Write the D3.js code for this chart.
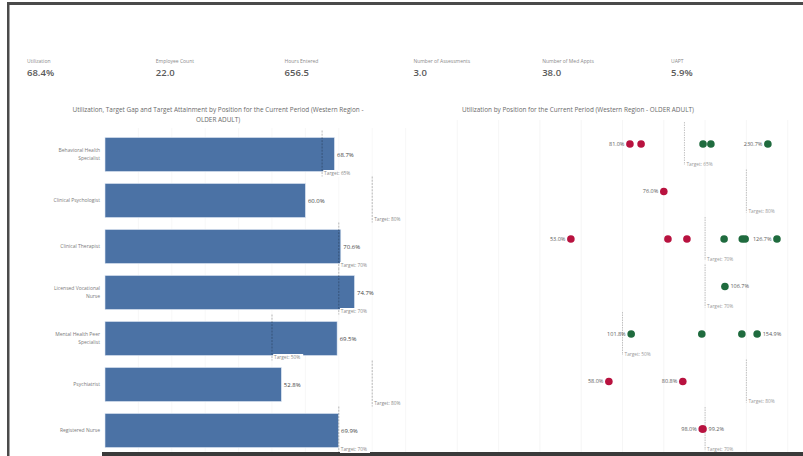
<!DOCTYPE html>
<html><head><meta charset="utf-8">
<script src="https://cdn.jsdelivr.net/npm/d3@7"></script>
<style>
body{margin:0;background:#fff;}
svg{display:block;font-family:"Open Sans",sans-serif;}
</style>
</head><body>
<svg id="c" width="803" height="456"></svg>
<script>
// ---- data ----
const kpiLabels = ["Utilization","Employee Count","Hours Entered","Number of Assessments","Number of Med Appts","UAPT"];
const kpiValues = ["68.4%","22.0","656.5","3.0","38.0","5.9%"];

const positions = ["Behavioral Health Specialist","Clinical Psychologist","Clinical Therapist","Licensed Vocational Nurse","Mental Health Peer Specialist","Psychiatrist","Registered Nurse"];
const positionLines = [["Behavioral Health","Specialist"],["Clinical Psychologist"],["Clinical Therapist"],["Licensed Vocational","Nurse"],["Mental Health Peer","Specialist"],["Psychiatrist"],["Registered Nurse"]];
const utilization = [68.7, 60.0, 70.6, 74.7, 69.5, 52.8, 69.9];
const utilizationLabels = ["68.7%","60.0%","70.6%","74.7%","69.5%","52.8%","69.9%"];
const targets = [65, 80, 70, 70, 50, 80, 70];
const gridTicks = [10,20,30,40,50,60,70,80,90];

// individual employees (dot plot): position index and utilization (%)
const empPosition = [0,0,0,0,0, 1, 2,2,2,2,2,2,2, 3, 4,4,4,4, 5,5, 6,6];
const empUtil     = [51.8,54.5,69.5,71.4,85.2, 60.0, 37.5,61.0,65.6,74.6,79.0,79.7,87.4, 74.8, 52.1,69.2,78.9,82.6, 46.7,64.6, 69.3,69.5];
// dot labels (target attainment)
const dotLabelPos   = [0,0,1,2,2,3,4,4,5,5,6,6];
const dotLabelValue = [51.8,85.2,60.0,37.5,87.4,74.8,52.1,82.6,46.7,64.6,69.3,69.5];
const dotLabelText  = ["81.0%","230.7%","76.0%","53.0%","126.7%","106.7%","101.8%","154.9%","58.0%","80.8%","98.0%","99.2%"];
const dotLabelSide  = ["left","left","left","left","left","right","left","right","left","left","left","right"];

// ---- drawing ----
const svg = d3.select("#c");

// frame
svg.append("rect").attr("x",7).attr("y",2).attr("width",796).attr("height",3).attr("fill","#4a4a4a");
svg.append("rect").attr("x",7).attr("y",2).attr("width",2.5).attr("height",454).attr("fill","#4a4a4a");
svg.append("rect").attr("x",102).attr("y",452).attr("width",701).attr("height",4).attr("fill","#3a3a3a");

// KPIs
const kpiX = d3.scalePoint().domain(d3.range(kpiLabels.length)).range([27, 671]);
kpiLabels.forEach((l,i)=>{
  svg.append("text").attr("x",kpiX(i)).attr("y",63).attr("font-size",5).attr("fill","#8a8a8a").text(l);
  svg.append("text").attr("x",kpiX(i)).attr("y",76).attr("font-size",9.5).attr("font-weight",600).attr("fill","#5a5a5a").text(kpiValues[i]);
});

// titles
const tl = svg.append("text").attr("font-size",6.4).attr("fill","#6a6a6a").attr("text-anchor","middle");
tl.append("tspan").attr("x",218).attr("y",112).text("Utilization, Target Gap and Target Attainment by Position for the Current Period (Western Region -");
tl.append("tspan").attr("x",218).attr("y",121.5).text("OLDER ADULT)");
svg.append("text").attr("x",462).attr("y",112).attr("font-size",6.4).attr("fill","#6a6a6a")
  .text("Utilization by Position for the Current Period (Western Region - OLDER ADULT)");

// ---- left bar chart ----
const xL = d3.scaleLinear().domain([0,100]).range([105, 439]);
const yL = d3.scaleBand().domain(positions).range([131.5, 453.5]).paddingInner(0.26).paddingOuter(0.13);

const gL = svg.append("g");
gL.selectAll("line.grid").data(gridTicks).join("line")
  .attr("x1",d=>xL(d)).attr("x2",d=>xL(d)).attr("y1",128).attr("y2",452)
  .attr("stroke","#f5f5f5").attr("stroke-width",0.7);

gL.selectAll("rect.bar").data(positions).join("rect")
  .attr("x",xL(0)).attr("y",d=>yL(d)).attr("height",yL.bandwidth())
  .attr("width",(d,i)=>xL(utilization[i])-xL(0))
  .attr("fill","#4b72a5").attr("stroke","#dfe8f3").attr("stroke-width",0.6);

gL.selectAll("text.val").data(positions).join("text")
  .attr("x",(d,i)=>xL(utilization[i])+2.5).attr("y",d=>yL(d)+yL.bandwidth()/2)
  .attr("dy","0.35em").attr("font-size",6).attr("fill","#444").text((d,i)=>utilizationLabels[i]);

// category labels
positions.forEach((p,i)=>{
  const c = yL(p)+yL.bandwidth()/2;
  const lines = positionLines[i];
  lines.forEach((ln,j)=>{
    svg.append("text").attr("x",100).attr("y",c + (j-(lines.length-1)/2)*8).attr("dy","0.35em")
      .attr("text-anchor","end").attr("font-size",5).attr("fill","#7a7a7a").text(ln);
  });
});

// left target lines
positions.forEach((p,i)=>{
  const c = yL(p)+yL.bandwidth()/2;
  const x = xL(targets[i]);
  gL.append("line").attr("x1",x).attr("x2",x).attr("y1",c-24).attr("y2",c+22)
    .attr("stroke","rgba(0,0,0,0.35)").attr("stroke-width",0.8).attr("stroke-dasharray","2,1.2");
  const t = "Target: "+targets[i]+"%";
  gL.append("rect").attr("x",x+1.2).attr("y",c+15.5).attr("width",30).attr("height",7).attr("fill","#fff");
  gL.append("text").attr("x",x+2).attr("y",c+19).attr("dy","0.35em").attr("font-size",4.8).attr("fill","#8a8a8a").text(t);
});

// ---- right dot plot ----
const xR = d3.scaleLinear().domain([0,100]).range([416, 829]);
const yR = d3.scalePoint().domain(positions).range([144, 429]);
const gR = svg.append("g");
gR.selectAll("line.grid").data(gridTicks).join("line")
  .attr("x1",d=>xR(d)).attr("x2",d=>xR(d)).attr("y1",120).attr("y2",452)
  .attr("stroke","#f2f2f2").attr("stroke-width",0.7);

positions.forEach((p,i)=>{
  const c = yR(p);
  const x = xR(targets[i]);
  gR.append("line").attr("x1",x).attr("x2",x).attr("y1",c-22).attr("y2",c+21)
    .attr("stroke","#b5b5b5").attr("stroke-width",0.8).attr("stroke-dasharray","1.5,1");
  gR.append("text").attr("x",x+2).attr("y",c+20).attr("dy","0.35em").attr("font-size",4.8).attr("fill","#999")
    .text("Target: "+targets[i]+"%");
});

gR.selectAll("circle").data(empUtil).join("circle")
  .attr("cx",d=>xR(d)).attr("cy",(d,i)=>yR(positions[empPosition[i]]))
  .attr("r",3.8)
  .attr("fill",(d,i)=> d >= targets[empPosition[i]] ? "#1f6b3e" : "#b8123f");

gR.selectAll("text.dl").data(dotLabelValue).join("text")
  .attr("x",(d,i)=> dotLabelSide[i]==="left" ? xR(d)-5.5 : xR(d)+5.5)
  .attr("y",(d,i)=>yR(positions[dotLabelPos[i]])).attr("dy","0.35em")
  .attr("text-anchor",(d,i)=> dotLabelSide[i]==="left" ? "end" : "start")
  .attr("font-size",5.5).attr("fill","#5a5a5a").text((d,i)=>dotLabelText[i]);
</script>
</body></html>
